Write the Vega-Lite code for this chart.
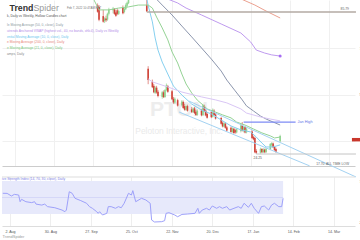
{
  "$schema": "https://vega.github.io/schema/vega-lite/v6.json",
  "padding": 0,
  "background": "#ffffff",
  "bounds": "flush",
  "spacing": 11,
  "config": {"view": {"stroke": null}, "font": "Liberation Sans"},
  "datasets": {
    "candles": [
      {"date":"2021-09-30","open":88.6,"high":89.5,"low":85.5,"close":85.9},
      {"date":"2021-10-01","open":88.0,"high":88.8,"low":81.8,"close":82.4},
      {"date":"2021-10-04","open":84.0,"high":86.7,"low":81.2,"close":81.6},
      {"date":"2021-10-05","open":81.8,"high":83.5,"low":81.0,"close":83.0},
      {"date":"2021-10-06","open":83.0,"high":84.2,"low":81.5,"close":82.2},
      {"date":"2021-10-07","open":82.5,"high":85.5,"low":82.0,"close":85.0},
      {"date":"2021-10-08","open":85.0,"high":87.6,"low":84.3,"close":86.9},
      {"date":"2021-10-11","open":86.5,"high":88.0,"low":85.2,"close":87.2},
      {"date":"2021-10-12","open":87.0,"high":87.5,"low":84.6,"close":85.0},
      {"date":"2021-10-13","open":85.6,"high":86.6,"low":83.7,"close":84.2},
      {"date":"2021-10-14","open":86.5,"high":87.4,"low":84.4,"close":85.0},
      {"date":"2021-10-15","open":85.0,"high":86.8,"low":84.5,"close":86.2},
      {"date":"2021-10-18","open":87.8,"high":88.6,"low":84.8,"close":85.3},
      {"date":"2021-10-19","open":85.8,"high":87.6,"low":85.2,"close":87.2},
      {"date":"2021-10-20","open":87.0,"high":89.5,"low":86.6,"close":88.8},
      {"date":"2021-10-21","open":88.5,"high":90.3,"low":87.8,"close":89.8},
      {"date":"2021-10-22","open":89.6,"high":92.0,"low":89.2,"close":91.5},
      {"date":"2021-10-25","open":91.8,"high":94.5,"low":91.2,"close":94.0},
      {"date":"2021-10-26","open":94.2,"high":95.8,"low":92.6,"close":93.1},
      {"date":"2021-10-27","open":93.0,"high":94.0,"low":91.4,"close":92.0},
      {"date":"2021-10-28","open":92.2,"high":95.0,"low":91.8,"close":94.6},
      {"date":"2021-10-29","open":94.5,"high":95.5,"low":92.8,"close":93.2},
      {"date":"2021-11-01","open":93.5,"high":96.0,"low":93.0,"close":95.4},
      {"date":"2021-11-02","open":95.3,"high":96.5,"low":93.2,"close":93.8},
      {"date":"2021-11-03","open":93.8,"high":95.0,"low":91.8,"close":92.4},
      {"date":"2021-11-04","open":88.9,"high":91.5,"low":85.79,"close":86.1},
      {"date":"2021-11-05","open":61.2,"high":62.3,"low":54.5,"close":56.3},
      {"date":"2021-11-08","open":55.5,"high":56.5,"low":52.8,"close":53.2},
      {"date":"2021-11-09","open":53.8,"high":54.6,"low":50.6,"close":51.0},
      {"date":"2021-11-10","open":50.8,"high":53.6,"low":50.2,"close":53.0},
      {"date":"2021-11-11","open":53.0,"high":53.8,"low":50.4,"close":50.9},
      {"date":"2021-11-12","open":51.2,"high":52.0,"low":48.8,"close":49.4},
      {"date":"2021-11-15","open":49.0,"high":51.6,"low":48.2,"close":51.0},
      {"date":"2021-11-16","open":51.0,"high":51.8,"low":48.5,"close":48.9},
      {"date":"2021-11-17","open":49.0,"high":52.4,"low":48.6,"close":52.0},
      {"date":"2021-11-18","open":52.0,"high":54.8,"low":51.4,"close":54.0},
      {"date":"2021-11-19","open":53.6,"high":54.2,"low":50.8,"close":51.2},
      {"date":"2021-11-22","open":51.4,"high":52.0,"low":47.6,"close":48.0},
      {"date":"2021-11-23","open":48.2,"high":49.0,"low":46.0,"close":46.6},
      {"date":"2021-11-24","open":46.6,"high":48.8,"low":46.0,"close":48.2},
      {"date":"2021-11-26","open":47.6,"high":48.2,"low":44.8,"close":45.2},
      {"date":"2021-11-29","open":45.4,"high":47.6,"low":44.8,"close":47.0},
      {"date":"2021-11-30","open":46.8,"high":47.4,"low":43.8,"close":44.2},
      {"date":"2021-12-01","open":45.0,"high":46.0,"low":43.0,"close":43.4},
      {"date":"2021-12-02","open":43.4,"high":45.6,"low":43.0,"close":45.0},
      {"date":"2021-12-03","open":45.0,"high":45.6,"low":42.6,"close":43.0},
      {"date":"2021-12-06","open":43.6,"high":44.6,"low":42.0,"close":42.4},
      {"date":"2021-12-07","open":42.4,"high":44.4,"low":42.0,"close":44.0},
      {"date":"2021-12-08","open":44.0,"high":44.6,"low":41.6,"close":42.0},
      {"date":"2021-12-09","open":42.6,"high":43.4,"low":40.8,"close":41.2},
      {"date":"2021-12-10","open":41.2,"high":43.6,"low":40.8,"close":43.0},
      {"date":"2021-12-13","open":43.0,"high":43.8,"low":40.6,"close":41.0},
      {"date":"2021-12-14","open":41.2,"high":46.0,"low":40.8,"close":45.4},
      {"date":"2021-12-15","open":45.0,"high":45.6,"low":42.4,"close":42.8},
      {"date":"2021-12-16","open":43.0,"high":43.6,"low":40.6,"close":41.0},
      {"date":"2021-12-17","open":41.6,"high":42.2,"low":39.6,"close":40.0},
      {"date":"2021-12-20","open":42.4,"high":43.2,"low":39.8,"close":40.2},
      {"date":"2021-12-21","open":40.4,"high":44.0,"low":40.0,"close":43.4},
      {"date":"2021-12-22","open":43.0,"high":43.6,"low":40.8,"close":41.2},
      {"date":"2021-12-23","open":41.4,"high":42.0,"low":39.2,"close":39.6},
      {"date":"2021-12-27","open":39.8,"high":40.4,"low":37.0,"close":37.4},
      {"date":"2021-12-28","open":37.8,"high":38.4,"low":35.8,"close":36.2},
      {"date":"2021-12-29","open":36.2,"high":38.0,"low":35.8,"close":37.6},
      {"date":"2021-12-30","open":37.4,"high":38.0,"low":35.2,"close":35.6},
      {"date":"2021-12-31","open":35.8,"high":36.4,"low":34.0,"close":34.4},
      {"date":"2022-01-03","open":35.6,"high":36.2,"low":33.4,"close":33.8},
      {"date":"2022-01-04","open":33.8,"high":35.8,"low":33.4,"close":35.4},
      {"date":"2022-01-05","open":35.2,"high":35.6,"low":33.0,"close":33.4},
      {"date":"2022-01-06","open":34.6,"high":35.2,"low":33.0,"close":33.6},
      {"date":"2022-01-07","open":33.6,"high":35.4,"low":33.2,"close":35.0},
      {"date":"2022-01-10","open":34.2,"high":37.2,"low":33.6,"close":36.6},
      {"date":"2022-01-11","open":36.6,"high":38.1,"low":34.0,"close":34.4},
      {"date":"2022-01-12","open":34.2,"high":36.4,"low":33.6,"close":36.0},
      {"date":"2022-01-13","open":35.8,"high":36.4,"low":33.2,"close":33.6},
      {"date":"2022-01-14","open":33.6,"high":35.8,"low":33.2,"close":35.2},
      {"date":"2022-01-18","open":34.0,"high":34.6,"low":30.8,"close":31.2},
      {"date":"2022-01-19","open":31.6,"high":32.2,"low":30.2,"close":30.6},
      {"date":"2022-01-20","open":31.2,"high":31.8,"low":24.6,"close":25.0},
      {"date":"2022-01-21","open":25.6,"high":26.4,"low":24.25,"close":24.8},
      {"date":"2022-01-24","open":24.8,"high":27.0,"low":24.4,"close":26.4},
      {"date":"2022-01-25","open":26.4,"high":26.8,"low":24.6,"close":25.0},
      {"date":"2022-01-26","open":25.0,"high":26.8,"low":24.7,"close":26.2},
      {"date":"2022-01-27","open":26.2,"high":26.6,"low":24.6,"close":25.0},
      {"date":"2022-01-28","open":25.0,"high":26.8,"low":24.8,"close":26.5},
      {"date":"2022-01-31","open":26.4,"high":29.0,"low":26.0,"close":28.6},
      {"date":"2022-02-01","open":28.0,"high":29.4,"low":27.2,"close":29.0},
      {"date":"2022-02-02","open":28.8,"high":29.2,"low":26.8,"close":27.2},
      {"date":"2022-02-03","open":27.4,"high":27.8,"low":25.6,"close":26.0},
      {"date":"2022-02-04","open":26.4,"high":27.0,"low":24.8,"close":25.2},
      {"date":"2022-02-07","open":29.8,"high":32.6,"low":29.4,"close":32.0}
    ],
    "lines": [
      {"series":"ema10","date":"2021-11-01","value":93.0},
      {"series":"ema10","date":"2021-11-04","value":91.6},
      {"series":"ema10","date":"2021-11-05","value":88.6},
      {"series":"ema10","date":"2021-11-08","value":81.5},
      {"series":"ema10","date":"2021-11-10","value":74.5},
      {"series":"ema10","date":"2021-11-12","value":69.3},
      {"series":"ema10","date":"2021-11-15","value":64.1},
      {"series":"ema10","date":"2021-11-19","value":58.9},
      {"series":"ema10","date":"2021-11-23","value":53.7},
      {"series":"ema10","date":"2021-11-29","value":49.8},
      {"series":"ema10","date":"2021-12-06","value":45.9},
      {"series":"ema10","date":"2021-12-13","value":43.3},
      {"series":"ema10","date":"2021-12-20","value":41.6},
      {"series":"ema10","date":"2021-12-27","value":39.0},
      {"series":"ema10","date":"2022-01-03","value":36.4},
      {"series":"ema10","date":"2022-01-10","value":34.7},
      {"series":"ema10","date":"2022-01-17","value":33.8},
      {"series":"ema10","date":"2022-01-21","value":31.6},
      {"series":"ema10","date":"2022-01-25","value":29.0},
      {"series":"ema10","date":"2022-01-28","value":27.3},
      {"series":"ema10","date":"2022-02-02","value":27.3},
      {"series":"ema10","date":"2022-02-07","value":28.2},
      {"series":"sma21","date":"2021-09-27","value":91.5},
      {"series":"sma21","date":"2021-10-01","value":86.7},
      {"series":"sma21","date":"2021-10-08","value":86.7},
      {"series":"sma21","date":"2021-10-15","value":87.5},
      {"series":"sma21","date":"2021-10-22","value":88.0},
      {"series":"sma21","date":"2021-10-29","value":88.8},
      {"series":"sma21","date":"2021-11-05","value":88.8},
      {"series":"sma21","date":"2021-11-08","value":87.5},
      {"series":"sma21","date":"2021-11-11","value":83.6},
      {"series":"sma21","date":"2021-11-15","value":78.9},
      {"series":"sma21","date":"2021-11-19","value":73.7},
      {"series":"sma21","date":"2021-11-22","value":68.5},
      {"series":"sma21","date":"2021-11-26","value":63.7},
      {"series":"sma21","date":"2021-11-29","value":58.9},
      {"series":"sma21","date":"2021-12-02","value":54.6},
      {"series":"sma21","date":"2021-12-06","value":50.7},
      {"series":"sma21","date":"2021-12-10","value":47.6},
      {"series":"sma21","date":"2021-12-14","value":45.5},
      {"series":"sma21","date":"2021-12-17","value":43.8},
      {"series":"sma21","date":"2021-12-23","value":42.4},
      {"series":"sma21","date":"2021-12-28","value":41.2},
      {"series":"sma21","date":"2022-01-03","value":39.9},
      {"series":"sma21","date":"2022-01-07","value":38.1},
      {"series":"sma21","date":"2022-01-13","value":36.8},
      {"series":"sma21","date":"2022-01-19","value":35.1},
      {"series":"sma21","date":"2022-01-25","value":33.4},
      {"series":"sma21","date":"2022-01-31","value":32.1},
      {"series":"sma21","date":"2022-02-03","value":31.2},
      {"series":"sma21","date":"2022-02-07","value":31.6},
      {"series":"sma50","date":"2021-11-08","value":93.2},
      {"series":"sma50","date":"2021-11-15","value":88.8},
      {"series":"sma50","date":"2021-11-22","value":84.5},
      {"series":"sma50","date":"2021-11-29","value":79.7},
      {"series":"sma50","date":"2021-12-06","value":75.0},
      {"series":"sma50","date":"2021-12-13","value":70.2},
      {"series":"sma50","date":"2021-12-20","value":65.4},
      {"series":"sma50","date":"2021-12-27","value":60.2},
      {"series":"sma50","date":"2021-12-31","value":56.3},
      {"series":"sma50","date":"2022-01-06","value":51.6},
      {"series":"sma50","date":"2022-01-11","value":47.7},
      {"series":"sma50","date":"2022-01-14","value":45.1},
      {"series":"sma50","date":"2022-01-19","value":42.9},
      {"series":"sma50","date":"2022-01-24","value":40.7},
      {"series":"sma50","date":"2022-01-28","value":39.4},
      {"series":"sma50","date":"2022-02-02","value":38.1},
      {"series":"sma50","date":"2022-02-07","value":36.8},
      {"series":"sma200","date":"2022-01-07","value":92.3},
      {"series":"sma200","date":"2022-01-20","value":88.8},
      {"series":"sma200","date":"2022-01-28","value":86.2},
      {"series":"sma200","date":"2022-02-07","value":83.2},
      {"series":"vwap","date":"2021-11-19","value":91.4},
      {"series":"vwap","date":"2021-11-26","value":89.7},
      {"series":"vwap","date":"2021-12-02","value":87.5},
      {"series":"vwap","date":"2021-12-13","value":84.5},
      {"series":"vwap","date":"2021-12-27","value":80.6},
      {"series":"vwap","date":"2022-01-10","value":76.7},
      {"series":"vwap","date":"2022-01-17","value":72.8},
      {"series":"vwap","date":"2022-01-21","value":69.3},
      {"series":"vwap","date":"2022-01-27","value":68.0},
      {"series":"vwap","date":"2022-02-01","value":67.2},
      {"series":"vwap","date":"2022-02-07","value":66.7},
      {"series":"vwapD","date":"2021-11-05","value":56.8},
      {"series":"vwapD","date":"2021-11-08","value":55.5},
      {"series":"vwapD","date":"2021-11-19","value":53.3},
      {"series":"vwapD","date":"2021-11-29","value":51.1},
      {"series":"vwapD","date":"2021-12-13","value":49.0},
      {"series":"vwapD","date":"2021-12-23","value":47.7},
      {"series":"vwapD","date":"2021-12-31","value":46.4},
      {"series":"vwapD","date":"2022-01-10","value":43.8},
      {"series":"vwapD","date":"2022-01-14","value":42.0},
      {"series":"vwapD","date":"2022-01-24","value":40.3},
      {"series":"vwapD","date":"2022-01-31","value":39.4},
      {"series":"vwapD","date":"2022-02-07","value":38.6},
      {"series":"chanU","date":"2021-12-04","value":47.2},
      {"series":"chanU","date":"2022-04-02","value":14.3},
      {"series":"chanL","date":"2021-11-27","value":42.45},
      {"series":"chanL","date":"2022-02-28","value":19.1}
    ],
    "rsi": [
      {"date":"2021-07-28","rsi":55.1},{"date":"2021-07-31","rsi":55.0},{"date":"2021-08-03","rsi":51.8},
      {"date":"2021-08-05","rsi":53.8},{"date":"2021-08-08","rsi":53.0},{"date":"2021-08-09","rsi":44.9},
      {"date":"2021-08-10","rsi":47.8},{"date":"2021-08-13","rsi":44.9},{"date":"2021-08-17","rsi":43.8},
      {"date":"2021-08-19","rsi":44.9},{"date":"2021-08-20","rsi":42.0},{"date":"2021-08-24","rsi":40.8},
      {"date":"2021-08-26","rsi":42.0},{"date":"2021-08-28","rsi":38.9},{"date":"2021-09-02","rsi":37.6},
      {"date":"2021-09-07","rsi":34.8},{"date":"2021-09-09","rsi":32.8},{"date":"2021-09-10","rsi":34.8},
      {"date":"2021-09-12","rsi":57.0},{"date":"2021-09-14","rsi":55.1},{"date":"2021-09-16","rsi":49.0},
      {"date":"2021-09-20","rsi":46.2},{"date":"2021-09-24","rsi":43.0},{"date":"2021-09-26","rsi":38.9},
      {"date":"2021-09-28","rsi":36.9},{"date":"2021-10-01","rsi":32.8},{"date":"2021-10-02","rsi":30.8},
      {"date":"2021-10-03","rsi":32.8},{"date":"2021-10-05","rsi":28.8},{"date":"2021-10-08","rsi":30.8},
      {"date":"2021-10-09","rsi":38.9},{"date":"2021-10-11","rsi":38.9},{"date":"2021-10-14","rsi":36.9},
      {"date":"2021-10-16","rsi":38.9},{"date":"2021-10-18","rsi":37.6},{"date":"2021-10-20","rsi":43.0},
      {"date":"2021-10-23","rsi":55.1},{"date":"2021-10-25","rsi":53.0},{"date":"2021-10-26","rsi":58.3},
      {"date":"2021-10-28","rsi":44.9},{"date":"2021-11-01","rsi":49.0},{"date":"2021-11-04","rsi":47.0},
      {"date":"2021-11-07","rsi":43.0},{"date":"2021-11-08","rsi":22.7},{"date":"2021-11-10","rsi":20.3},
      {"date":"2021-11-15","rsi":20.7},{"date":"2021-11-17","rsi":21.9},{"date":"2021-11-18","rsi":30.8},
      {"date":"2021-11-20","rsi":31.6},{"date":"2021-11-24","rsi":28.8},{"date":"2021-11-26","rsi":26.7},
      {"date":"2021-11-29","rsi":29.5},{"date":"2021-12-03","rsi":30.0},{"date":"2021-12-08","rsi":30.8},
      {"date":"2021-12-10","rsi":36.9},{"date":"2021-12-11","rsi":30.8},{"date":"2021-12-13","rsi":34.8},
      {"date":"2021-12-16","rsi":36.9},{"date":"2021-12-18","rsi":34.8},{"date":"2021-12-20","rsi":39.7},
      {"date":"2021-12-23","rsi":36.9},{"date":"2021-12-25","rsi":38.9},{"date":"2021-12-27","rsi":36.9},
      {"date":"2021-12-30","rsi":38.9},{"date":"2022-01-01","rsi":34.8},{"date":"2022-01-04","rsi":36.9},
      {"date":"2022-01-07","rsi":38.9},{"date":"2022-01-09","rsi":36.9},{"date":"2022-01-11","rsi":43.0},
      {"date":"2022-01-14","rsi":38.1},{"date":"2022-01-16","rsi":43.0},{"date":"2022-01-18","rsi":36.9},
      {"date":"2022-01-21","rsi":30.8},{"date":"2022-01-23","rsi":38.9},{"date":"2022-01-25","rsi":39.7},
      {"date":"2022-01-28","rsi":34.8},{"date":"2022-01-30","rsi":40.8},{"date":"2022-02-01","rsi":43.0},
      {"date":"2022-02-04","rsi":38.9},{"date":"2022-02-06","rsi":38.9},{"date":"2022-02-07","rsi":49.0}
    ]
  },
  "vconcat": [
    {
      "width": 353,
      "height": 166,
      "layer": [
        {
          "data": {"values": [{"label": "PTON"}]},
          "mark": {"type": "text", "fontSize": 21, "fontWeight": "bold", "color": "#ededed", "align": "center", "baseline": "middle"},
          "encoding": {
            "x": {"datum": {"year": 2021, "month": "nov", "date": 27, "utc": true}, "type": "temporal"},
            "y": {"datum": 43.3, "type": "quantitative"},
            "text": {"field": "label"}
          }
        },
        {
          "data": {"values": [{"label": "Peloton Interactive, Inc."}]},
          "mark": {"type": "text", "fontSize": 8.4, "color": "#eaeaea", "align": "center", "baseline": "middle"},
          "encoding": {
            "x": {"datum": {"year": 2021, "month": "nov", "date": 27, "utc": true}, "type": "temporal"},
            "y": {"datum": 34.2, "type": "quantitative"},
            "text": {"field": "label"}
          }
        },
        {
          "data": {"name": "candles"},
          "mark": {"type": "rule", "strokeWidth": 0.6, "clip": true},
          "encoding": {
            "x": {
              "field": "date", "type": "temporal", "title": null,
              "scale": {"type": "utc", "domain": [{"year": 2021, "month": "jul", "date": 27, "hours": 11, "utc": true}, {"year": 2022, "month": "mar", "date": 28, "hours": 18, "utc": true}]},
              "axis": {
                "values": [
                  {"year":2021,"month":"aug","date":2,"utc":true},{"year":2021,"month":"aug","date":16,"utc":true},{"year":2021,"month":"aug","date":30,"utc":true},
                  {"year":2021,"month":"sep","date":13,"utc":true},{"year":2021,"month":"sep","date":27,"utc":true},{"year":2021,"month":"oct","date":11,"utc":true},
                  {"year":2021,"month":"oct","date":25,"utc":true},{"year":2021,"month":"nov","date":8,"utc":true},{"year":2021,"month":"nov","date":22,"utc":true},
                  {"year":2021,"month":"dec","date":6,"utc":true},{"year":2021,"month":"dec","date":20,"utc":true},{"year":2022,"month":"jan","date":3,"utc":true},
                  {"year":2022,"month":"jan","date":17,"utc":true},{"year":2022,"month":"jan","date":31,"utc":true},{"year":2022,"month":"feb","date":14,"utc":true},
                  {"year":2022,"month":"feb","date":28,"utc":true},{"year":2022,"month":"mar","date":14,"utc":true},{"year":2022,"month":"mar","date":28,"utc":true}
                ],
                "labels": false, "ticks": false, "domain": true, "domainColor": "#cccccc",
                "grid": true, "gridColor": "#f0f0f0", "title": null
              }
            },
            "y": {
              "field": "low", "type": "quantitative", "title": null,
              "scale": {"domain": [19.05, 90.99], "nice": false, "zero": false},
              "axis": {
                "orient": "right", "values": [30, 40, 50, 60, 70, 80],
                "labelExpr": "datum.value == 30 || datum.value == 80 ? '' : datum.label",
                "labelFontSize": 4, "labelColor": "#666666", "labelPadding": 4,
                "ticks": false, "domain": false, "grid": true, "gridColor": "#f0f0f0", "title": null
              }
            },
            "y2": {"field": "high"},
            "color": {"condition": {"test": "datum.close >= datum.open", "value": "#7cc77c"}, "value": "#d0443a"}
          }
        },
        {
          "data": {"name": "candles"},
          "mark": {"type": "bar", "width": 1.6, "clip": true},
          "encoding": {
            "x": {"field": "date", "type": "temporal", "title": null},
            "y": {"field": "open", "type": "quantitative", "title": null},
            "y2": {"field": "close"},
            "color": {"condition": {"test": "datum.close >= datum.open", "value": "#8fd48f"}, "value": "#d0443a"}
          }
        },
        {
          "data": {"name": "lines"},
          "transform": [{"filter": {"not": {"field": "series", "oneOf": ["chanU", "chanL"]}}}],
          "mark": {"type": "line", "strokeWidth": 1, "clip": true},
          "encoding": {
            "x": {"field": "date", "type": "temporal", "title": null},
            "y": {"field": "value", "type": "quantitative", "title": null},
            "color": {
              "field": "series", "type": "nominal", "legend": null,
              "scale": {
                "domain": ["sma50", "vwap", "ema10", "sma200", "sma21", "vwapD", "chanU", "chanL"],
                "range": ["#8c96ad", "#bf9bef", "#86d0f0", "#eba08f", "#95d395", "#d9c6f5", "#a3d2f2", "#a3d2f2"]
              }
            }
          }
        },
        {
          "data": {"name": "lines"},
          "transform": [{"filter": {"field": "series", "oneOf": ["chanU", "chanL"]}}],
          "mark": {"type": "line", "strokeWidth": 1, "clip": false},
          "encoding": {
            "x": {"field": "date", "type": "temporal", "title": null},
            "y": {"field": "value", "type": "quantitative", "title": null},
            "color": {"field": "series", "type": "nominal", "legend": null}
          }
        },
        {
          "data": {"values": [{"date": "2022-02-07", "value": 66.7}]},
          "mark": {"type": "point", "filled": true, "size": 9, "color": "#a66df2", "opacity": 1},
          "encoding": {
            "x": {"field": "date", "type": "temporal", "title": null},
            "y": {"field": "value", "type": "quantitative", "title": null}
          }
        },
        {
          "data": {"values": [{"level": "85.79"}]},
          "mark": {"type": "rule", "color": "#b3aaa3", "strokeWidth": 1.3},
          "encoding": {
            "x": {"datum": {"year": 2021, "month": "nov", "date": 4, "utc": true}, "type": "temporal"},
            "x2": {"datum": {"year": 2022, "month": "apr", "date": 2, "utc": true}},
            "y": {"datum": 85.79, "type": "quantitative"}
          }
        },
        {
          "data": {"values": [{"level": "24.25"}]},
          "mark": {"type": "rule", "color": "#c4c4c4", "strokeWidth": 1},
          "encoding": {
            "x": {"datum": {"year": 2022, "month": "jan", "date": 21, "utc": true}, "type": "temporal"},
            "x2": {"datum": {"year": 2022, "month": "apr", "date": 2, "utc": true}},
            "y": {"datum": 24.25, "type": "quantitative"}
          }
        },
        {
          "data": {"values": [{"level": "Jan High"}]},
          "mark": {"type": "rule", "color": "#7e8bf5", "strokeWidth": 1.2},
          "encoding": {
            "x": {"datum": {"year": 2022, "month": "jan", "date": 12, "utc": true}, "type": "temporal"},
            "x2": {"datum": {"year": 2022, "month": "feb", "date": 18, "utc": true}},
            "y": {"datum": 38.1, "type": "quantitative"}
          }
        },
        {
          "data": {"values": [{"label": "85.79"}]},
          "mark": {"type": "text", "fontSize": 3.4, "color": "#666666", "align": "right", "baseline": "middle", "dx": -1},
          "encoding": {
            "x": {"datum": {"year": 2022, "month": "mar", "date": 28, "hours": 18, "utc": true}, "type": "temporal"},
            "y": {"datum": 87.1, "type": "quantitative"},
            "text": {"field": "label"}
          }
        },
        {
          "data": {"values": [{"label": "24.25"}]},
          "mark": {"type": "text", "fontSize": 3.3, "color": "#555555", "align": "center", "baseline": "middle"},
          "encoding": {
            "x": {"datum": {"year": 2022, "month": "jan", "date": 22, "utc": true}, "type": "temporal"},
            "y": {"datum": 22.5, "type": "quantitative"},
            "text": {"field": "label"}
          }
        },
        {
          "data": {"values": [{"label": "Jan High"}]},
          "mark": {"type": "text", "fontSize": 3.8, "color": "#6673e6", "align": "left", "baseline": "middle", "dx": 2},
          "encoding": {
            "x": {"datum": {"year": 2022, "month": "feb", "date": 18, "utc": true}, "type": "temporal"},
            "y": {"datum": 38.1, "type": "quantitative"},
            "text": {"field": "label"}
          }
        },
        {
          "data": {"values": [{"label": "17.70: ALL TIME LOW"}]},
          "mark": {"type": "text", "fontSize": 3.3, "color": "#666666", "align": "right", "baseline": "middle", "dx": -1},
          "encoding": {
            "x": {"datum": {"year": 2022, "month": "mar", "date": 28, "hours": 18, "utc": true}, "type": "temporal"},
            "y": {"datum": 19.9, "type": "quantitative"},
            "text": {"field": "label"}
          }
        },
        {
          "data": {"values": [{"tag": "last"}]},
          "mark": {"type": "rect", "color": "#c9372c"},
          "encoding": {
            "x": {"datum": {"year": 2022, "month": "mar", "date": 30, "hours": 3, "utc": true}, "type": "temporal"},
            "x2": {"datum": {"year": 2022, "month": "apr", "date": 5, "utc": true}},
            "y": {"datum": 31.2, "type": "quantitative"},
            "y2": {"datum": 29.7}
          }
        },
        {
          "data": {"values": [{"label": "Trend"}]},
          "mark": {"type": "text", "fontSize": 8.8, "fontWeight": "bold", "color": "#333333", "align": "left", "baseline": "middle", "dx": 2.5},
          "encoding": {
            "x": {"datum": {"year": 2021, "month": "jul", "date": 27, "hours": 11, "utc": true}, "type": "temporal"},
            "y": {"datum": 87.6, "type": "quantitative"},
            "text": {"field": "label"}
          }
        },
        {
          "data": {"values": [{"label": "Spider"}]},
          "mark": {"type": "text", "fontSize": 8.8, "color": "#999999", "align": "left", "baseline": "middle", "dx": 26.5},
          "encoding": {
            "x": {"datum": {"year": 2021, "month": "jul", "date": 27, "hours": 11, "utc": true}, "type": "temporal"},
            "y": {"datum": 87.6, "type": "quantitative"},
            "text": {"field": "label"}
          }
        },
        {
          "data": {"values": [{"label": "Feb 7, 2022 10:47AM EST"}]},
          "mark": {"type": "text", "fontSize": 2.9, "color": "#777777", "align": "left", "baseline": "middle", "dx": 60},
          "encoding": {
            "x": {"datum": {"year": 2021, "month": "jul", "date": 27, "hours": 11, "utc": true}, "type": "temporal"},
            "y": {"datum": 87.5, "type": "quantitative"},
            "text": {"field": "label"}
          }
        },
        {
          "data": {"values": [{"label": "k, Daily vs Weekly, Hollow Candles chart"}]},
          "mark": {"type": "text", "fontSize": 3.3, "color": "#555555", "align": "left", "baseline": "middle"},
          "encoding": {
            "x": {"datum": {"year": 2021, "month": "jul", "date": 27, "hours": 11, "utc": true}, "type": "temporal"},
            "y": {"datum": 83.9, "type": "quantitative"},
            "text": {"field": "label"}
          }
        },
        {
          "data": {"values": [{"label": "le Moving Average (50, 0, close), Daily"}]},
          "mark": {"type": "text", "fontSize": 3.3, "color": "#8c9aa0", "align": "left", "baseline": "middle"},
          "encoding": {
            "x": {"datum": {"year": 2021, "month": "jul", "date": 27, "hours": 11, "utc": true}, "type": "temporal"},
            "y": {"datum": 80.15, "type": "quantitative"},
            "text": {"field": "label"}
          }
        },
        {
          "data": {"values": [{"label": "utrends Anchored VWAP (highest vol., 40, no bands, ohlc4), Daily vs Weekly"}]},
          "mark": {"type": "text", "fontSize": 3.3, "color": "#b48ce8", "align": "left", "baseline": "middle"},
          "encoding": {
            "x": {"datum": {"year": 2021, "month": "jul", "date": 27, "hours": 11, "utc": true}, "type": "temporal"},
            "y": {"datum": 77.66, "type": "quantitative"},
            "text": {"field": "label"}
          }
        },
        {
          "data": {"values": [{"label": "ential Moving Average (10, 0, close), Daily"}]},
          "mark": {"type": "text", "fontSize": 3.3, "color": "#6cc6ee", "align": "left", "baseline": "middle"},
          "encoding": {
            "x": {"datum": {"year": 2021, "month": "jul", "date": 27, "hours": 11, "utc": true}, "type": "temporal"},
            "y": {"datum": 75.17, "type": "quantitative"},
            "text": {"field": "label"}
          }
        },
        {
          "data": {"values": [{"label": "e Moving Average (200, 0, close), Daily"}]},
          "mark": {"type": "text", "fontSize": 3.3, "color": "#e8887a", "align": "left", "baseline": "middle"},
          "encoding": {
            "x": {"datum": {"year": 2021, "month": "jul", "date": 27, "hours": 11, "utc": true}, "type": "temporal"},
            "y": {"datum": 72.68, "type": "quantitative"},
            "text": {"field": "label"}
          }
        },
        {
          "data": {"values": [{"label": "e Moving Average (21, 0, close), Daily"}]},
          "mark": {"type": "text", "fontSize": 3.3, "color": "#7cc87c", "align": "left", "baseline": "middle"},
          "encoding": {
            "x": {"datum": {"year": 2021, "month": "jul", "date": 27, "hours": 11, "utc": true}, "type": "temporal"},
            "y": {"datum": 70.19, "type": "quantitative"},
            "text": {"field": "label"}
          }
        },
        {
          "data": {"values": [{"label": "amps, Daily"}]},
          "mark": {"type": "text", "fontSize": 3.3, "color": "#8a8a8a", "align": "left", "baseline": "middle"},
          "encoding": {
            "x": {"datum": {"year": 2021, "month": "jul", "date": 27, "hours": 11, "utc": true}, "type": "temporal"},
            "y": {"datum": 67.69, "type": "quantitative"},
            "text": {"field": "label"}
          }
        }
      ]
    },
    {
      "width": 353,
      "height": 49,
      "layer": [
        {
          "data": {"values": [{"zone": "30-70"}]},
          "mark": {"type": "rect", "color": "#e7e9fb"},
          "encoding": {
            "x": {"datum": {"year": 2021, "month": "jul", "date": 27, "hours": 11, "utc": true}, "type": "temporal"},
            "x2": {"datum": {"year": 2022, "month": "feb", "date": 7, "utc": true}},
            "y": {"datum": 30, "type": "quantitative"},
            "y2": {"datum": 70}
          }
        },
        {
          "data": {"values": [{"level": 50}]},
          "mark": {"type": "rule", "color": "#cbcff6", "strokeWidth": 0.7},
          "encoding": {
            "x": {"datum": {"year": 2021, "month": "jul", "date": 27, "hours": 11, "utc": true}, "type": "temporal"},
            "x2": {"datum": {"year": 2022, "month": "feb", "date": 7, "utc": true}},
            "y": {"datum": 50, "type": "quantitative"}
          }
        },
        {
          "data": {"values": [{"edge": "top"}]},
          "mark": {"type": "rule", "color": "#dddddd", "strokeWidth": 1},
          "encoding": {
            "x": {"datum": {"year": 2021, "month": "jul", "date": 27, "hours": 11, "utc": true}, "type": "temporal"},
            "x2": {"datum": {"year": 2022, "month": "mar", "date": 28, "hours": 18, "utc": true}},
            "y": {"datum": 74.85, "type": "quantitative"}
          }
        },
        {
          "data": {"name": "rsi"},
          "mark": {"type": "line", "color": "#9ea1fa", "strokeWidth": 1},
          "encoding": {
            "x": {
              "field": "date", "type": "temporal",
              "scale": {"type": "utc", "domain": [{"year": 2021, "month": "jul", "date": 27, "hours": 11, "utc": true}, {"year": 2022, "month": "mar", "date": 28, "hours": 18, "utc": true}]},
              "axis": {
                "values": [
                  {"year":2021,"month":"aug","date":2,"utc":true},{"year":2021,"month":"aug","date":16,"utc":true},{"year":2021,"month":"aug","date":30,"utc":true},
                  {"year":2021,"month":"sep","date":13,"utc":true},{"year":2021,"month":"sep","date":27,"utc":true},{"year":2021,"month":"oct","date":11,"utc":true},
                  {"year":2021,"month":"oct","date":25,"utc":true},{"year":2021,"month":"nov","date":8,"utc":true},{"year":2021,"month":"nov","date":22,"utc":true},
                  {"year":2021,"month":"dec","date":6,"utc":true},{"year":2021,"month":"dec","date":20,"utc":true},{"year":2022,"month":"jan","date":3,"utc":true},
                  {"year":2022,"month":"jan","date":17,"utc":true},{"year":2022,"month":"jan","date":31,"utc":true},{"year":2022,"month":"feb","date":14,"utc":true},
                  {"year":2022,"month":"feb","date":28,"utc":true},{"year":2022,"month":"mar","date":14,"utc":true},{"year":2022,"month":"mar","date":28,"utc":true}
                ],
                "format": "%-d. %b", "labelFontSize": 3.6, "labelColor": "#555555", "labelPadding": 3,
                "labelFlush": false, "labelOverlap": false, "ticks": false,
                "domain": true, "domainColor": "#dddddd", "grid": true, "gridColor": "#eeeeee",
                "title": "TrendSpider", "titleAnchor": "start", "titleFontSize": 4, "titleColor": "#999999",
                "titleFontWeight": "normal", "titlePadding": 2
              }
            },
            "y": {
              "field": "rsi", "type": "quantitative",
              "scale": {"domain": [15.45, 74.85], "nice": false, "zero": false},
              "axis": {
                "orient": "right", "values": [20, 30, 40, 50, 60, 70],
                "labelFontSize": 3.5, "labelColor": "#666666", "labelPadding": 4,
                "ticks": false, "domain": false, "grid": false, "title": null
              }
            }
          }
        },
        {
          "data": {"values": [{"label": "ive Strength Index (14, 70, 30, close), Daily"}]},
          "mark": {"type": "text", "fontSize": 3.3, "color": "#7b7ee6", "align": "left", "baseline": "middle"},
          "encoding": {
            "x": {"datum": {"year": 2021, "month": "jul", "date": 27, "hours": 11, "utc": true}, "type": "temporal"},
            "y": {"datum": 72.4, "type": "quantitative"},
            "text": {"field": "label"}
          }
        }
      ]
    }
  ]
}
